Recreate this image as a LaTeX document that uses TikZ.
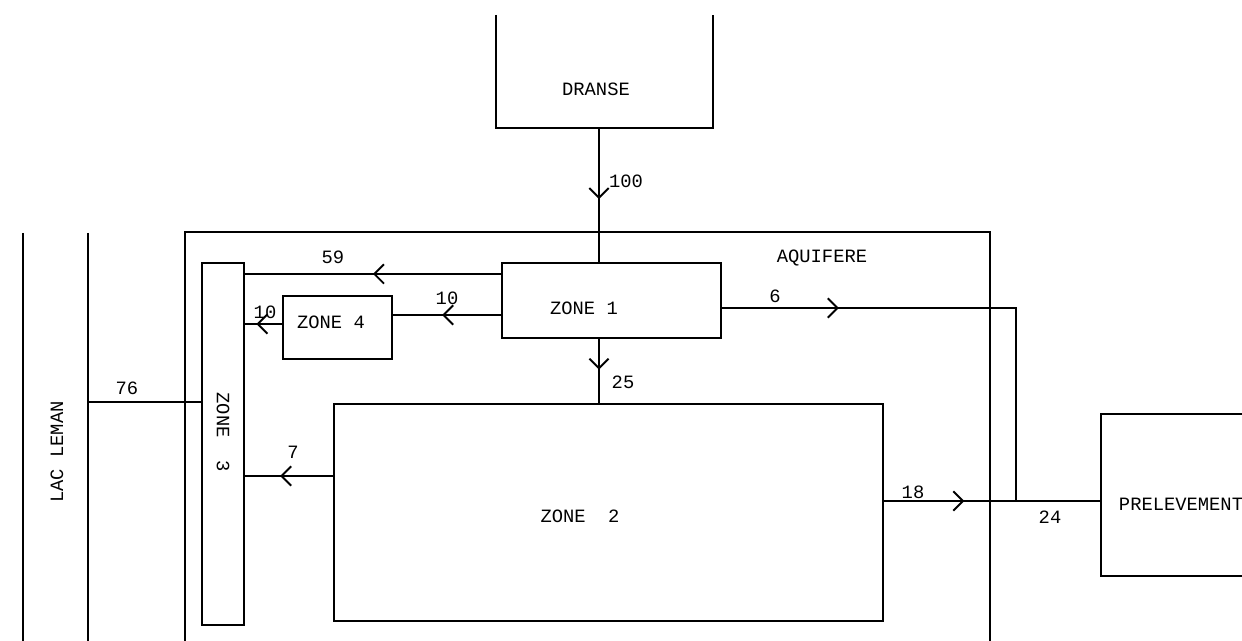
\documentclass[tikz,border=0pt]{standalone}
\usepackage{fontspec}
\newfontfamily\typewriter{Liberation Mono}
\usetikzlibrary{arrows.meta,decorations.markings,fit}
\tikzset{
  every picture/.style={line width=1.1pt, line join=miter},
  zonebox/.style={draw, inner sep=0pt},
  txt/.style={font=\typewriter\fontsize{10.7}{12}\selectfont, inner sep=0pt},
  flow/.style={decoration={markings,
      mark=at position #1 with {\arrow{Straight Barb[length=5.5pt,width=11pt]}}},
    postaction=decorate},
}

\begin{document}
\begin{tikzpicture}[x=0.02cm,y=-0.02cm]
\useasboundingbox (0,0) rectangle (1242,641);
% lake, aquifer and the outside boxes
\draw(23,233)--(23,641)
(88,233)--(88,641);
\draw(185,641)--(185,232)--(990,232)--(990,641);
\draw(496,15)--(496,128)--(713,128)--(713,15);
\draw(1242,414)--(1101,414)--(1101,576)--(1242,576);
\coordinate (dranse) at (599,128);
\coordinate (lac) at (88,402);
\coordinate (prel) at (1101,501);
\coordinate (junction) at (1016,501);
% zones
\node[zonebox, fit={(502,263) (721,338)}] (zone1) {};
\node[zonebox, fit={(334,404) (883,621)}] (zone2) {};
\node[zonebox, fit={(202,263) (244,625)}] (zone3) {};
\node[zonebox, fit={(283,296) (392,359)}] (zone4) {};
% texts
\node[txt] (tdranse) at (596,89) {DRANSE};
\node[txt] (taquifere) at (822,258) {AQUIFERE};
\node[txt] (tzone1) at (584,308) {ZONE 1};
\node[txt] (tzone2) at (580,516) {ZONE~~2};
\node[txt, rotate=-90] (tzone3) at (223,432) {ZONE~~3};
\node[txt] (tzone4) at (331,322) {ZONE 4};
\node[txt, rotate=90] (tlac) at (57,452) {LAC LEMAN};
\node[txt, anchor=west] (tprel) at (1118,504) {PRELEVEMENT};
% flows
\draw[flow=0.53] (dranse)--(dranse |- zone1.north);
\draw[flow=0.5] (zone1.west |- 0,274)--(zone3.east |- 0,274);
\draw[flow=0.545] (zone1.west |- 0,315)--(zone4.east |- 0,315);
\draw[flow=0.69] (zone4.west |- 0,324)--(zone3.east |- 0,324);
\draw[flow=0.48] (zone1.south -| dranse)--(zone2.north -| dranse);
\draw[flow=0.6] (zone2.west |- 0,476)--(zone3.east |- 0,476);
\draw[flow=0.24] (zone1.east |- 0,308)--(junction |- 0,308)--(junction);
\draw[flow=0.37] (zone2.east |- junction)--(prel);
\draw (lac)--(zone3.west |- lac);
% flow values
\draw(626,181)node[txt]{100}
(333,257)node[txt]{59}
(447,298)node[txt]{10}
(265,312)node[txt]{10}
(623,382)node[txt]{25}
(293,452)node[txt]{7}
(775,296)node[txt]{6}
(913,492)node[txt]{18}
(1050,517)node[txt]{24}
(127,388)node[txt]{76};
\end{tikzpicture}
\end{document}
